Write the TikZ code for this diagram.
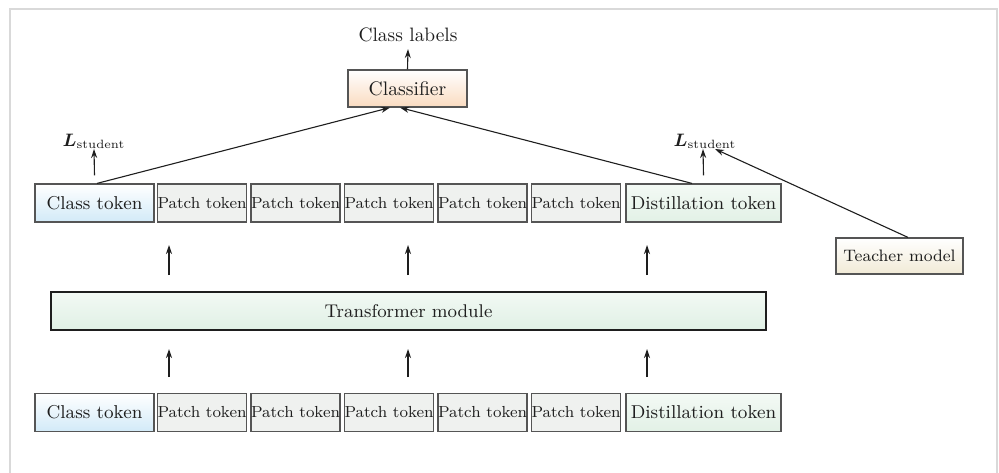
\documentclass[tikz,border=0pt]{standalone}
\usepackage{amsmath,bm}
\usetikzlibrary{arrows.meta}
\definecolor{txt}{HTML}{1E1E1E}
\definecolor{bord}{HTML}{555555}
\definecolor{clsblue}{HTML}{D2EAF8}
\definecolor{patchgray}{HTML}{EFF1EF}
\definecolor{distgreen}{HTML}{E2F1E6}
\definecolor{trtop}{HTML}{F2F9F4}
\definecolor{trbot}{HTML}{E0F0E5}
\definecolor{clfpeach}{HTML}{FADBC0}
\definecolor{teachbeige}{HTML}{F1EAD6}
\definecolor{frame}{HTML}{D9D9D9}
\begin{document}
\begin{tikzpicture}[x=0.5pt,y=-0.5pt,
  every node/.style={text=txt},
  box/.style={draw=bord, line width=0.6pt, inner sep=0pt, minimum height=19pt},
  bigtok/.style={box, font=\fontsize{9.3}{11}\selectfont},
  clstok/.style={bigtok, minimum width=59.5pt, top color=white, bottom color=clsblue},
  patchtok/.style={box, minimum width=43.5pt, fill=patchgray, font=\fontsize{8}{10}\selectfont},
  disttok/.style={bigtok, minimum width=77.5pt, top color=white!60!distgreen, bottom color=distgreen},
  arr/.style={-{Stealth[length=4.5pt,width=3pt]}, line width=0.55pt, draw=txt},
  lst/.style={inner sep=0pt, anchor=south, font=\fontsize{9}{11}\selectfont}
]
\useasboundingbox (0,0) rectangle (999,472);
\draw[frame, line width=0.8pt] (10,480) -- (10,9) -- (997,9) -- (997,480);

% top
\node[font=\fontsize{9.7}{12}\selectfont] (lab) at (408,35) {Class labels};
\node[box, minimum width=59.5pt, minimum height=18.5pt, top color=white, bottom color=clfpeach,
      font=\fontsize{9.8}{12}\selectfont] (clf) at (407.5,88.5) {Classifier};
\draw[arr] (clf.north) -- (lab.south);

% upper token row
\node[clstok] (t0) at (94.5,203) {Class token};
\node[patchtok] (t1) at (202,203) {Patch token};
\node[patchtok] (t2) at (295.5,203) {Patch token};
\node[patchtok] (t3) at (389,203) {Patch token};
\node[patchtok] (t4) at (482.5,203) {Patch token};
\node[patchtok] (t5) at (576,203) {Patch token};
\node[disttok] (t6) at (703.5,203) {Distillation token};

% losses
\node[lst] (ls1) at (94,149) {$\bm{L}_{\text{student}}$};
\node[lst] (ls2) at (705,149) {$\bm{L}_{\text{student}}$};
\draw[arr] ([yshift=4pt]t0.north) -- (ls1.south);
\draw[arr] ([yshift=4pt]t6.north) -- ([xshift=-1pt]ls2.south);

\draw[arr] ([xshift=1.25pt]t0.north) -- ([xshift=-8.75pt]clf.south);
\draw[arr] ([xshift=-5.75pt]t6.north) -- ([xshift=-3.75pt]clf.south);

% teacher
\node[box, minimum width=63.5pt, minimum height=18pt, top color=white, bottom color=teachbeige,
      font=\fontsize{8.3}{10}\selectfont] (tea) at (899.5,256) {Teacher model};
\draw[arr] ([xshift=4.25pt]tea.north) -- ([xshift=5pt,yshift=0pt]ls2.south);

% transformer
\node[draw=txt, line width=0.6pt, minimum width=357.5pt, minimum height=19pt, inner sep=0pt,
      top color=trtop, bottom color=trbot, font=\fontsize{9.2}{11}\selectfont] (tr) at (408.5,311) {Transformer module};

% middle arrows
\foreach \i/\x in {a/169,b/408,c/647}{
  \coordinate (u\i s) at (\x,275);
  \coordinate (u\i e) at (\x,245);
  \coordinate (l\i s) at (\x,377);
  \coordinate (l\i e) at (\x,349);
  \draw[arr] (u\i s) -- (u\i e);
  \draw[arr] (l\i s) -- (l\i e);
}

% lower token row
\node[clstok] (b0) at (94.5,412.5) {Class token};
\node[patchtok] (b1) at (202,412.5) {Patch token};
\node[patchtok] (b2) at (295.5,412.5) {Patch token};
\node[patchtok] (b3) at (389,412.5) {Patch token};
\node[patchtok] (b4) at (482.5,412.5) {Patch token};
\node[patchtok] (b5) at (576,412.5) {Patch token};
\node[disttok] (b6) at (703.5,412.5) {Distillation token};
\end{tikzpicture}
\end{document}
